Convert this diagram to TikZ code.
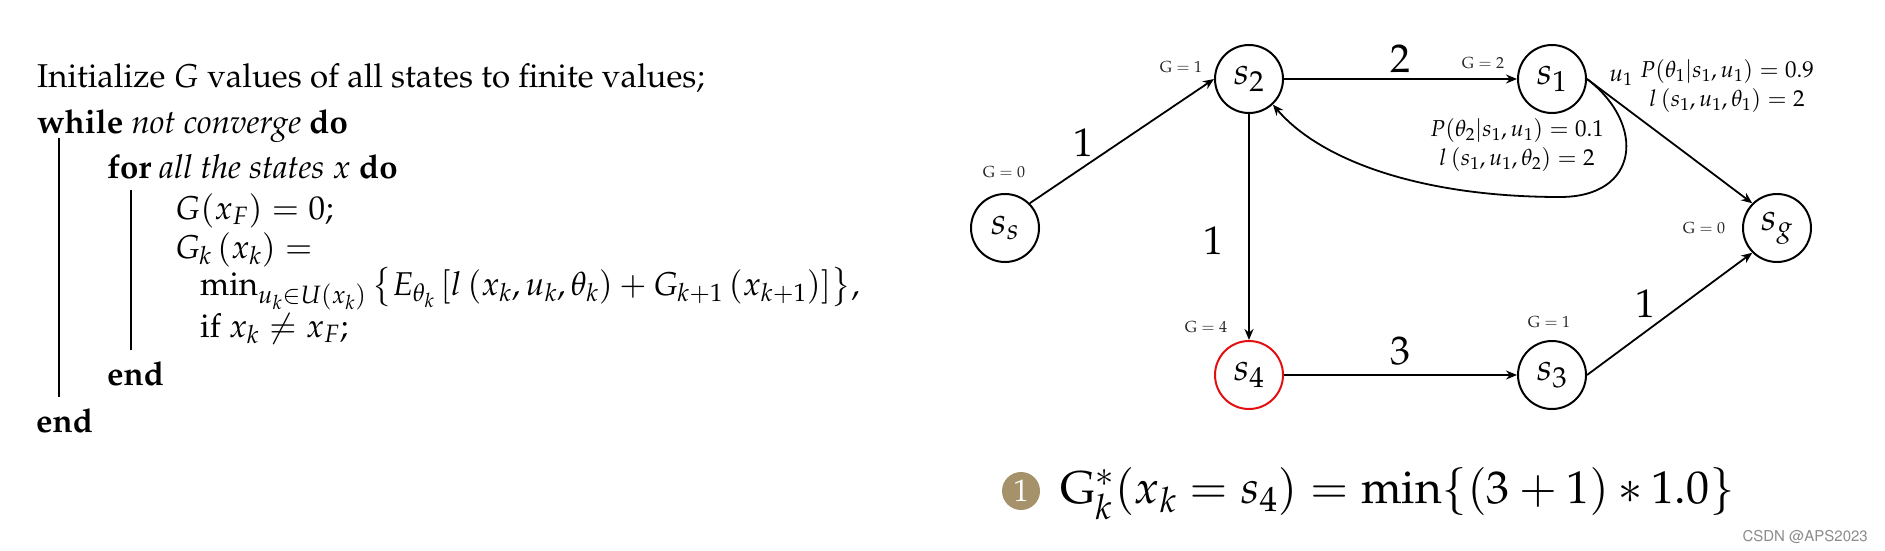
\documentclass[tikz,border=0pt]{standalone}
\usepackage[T1]{fontenc}
\usepackage{mathpazo}
\usetikzlibrary{arrows.meta}
\definecolor{bul}{RGB}{166,146,106}
\definecolor{redc}{RGB}{226,16,16}
\begin{document}
\begin{tikzpicture}[x=1pt,y=-1pt,
  state/.style={circle,draw,line width=2pt,minimum size=68pt,inner sep=0pt,font=\fontsize{38}{44}\selectfont},
  arr/.style={line width=1.8pt,-{Stealth[length=11pt,width=9pt]}},
  glab/.style={font=\fontsize{16}{18}\selectfont,text=black!85,inner sep=0pt},
  elab/.style={font=\fontsize{40}{44}\selectfont,inner sep=0pt},
  plab/.style={font=\fontsize{23}{29}\selectfont,align=center,inner sep=0pt},
  alg/.style={font=\fontsize{33}{40}\selectfont,anchor=base west,inner sep=0pt},
  bar/.style={line width=1.6pt}
]
\useasboundingbox (0,0) rectangle (1885,551);

% algorithm
\node[alg] (a1) at (37,88) {Initialize $G$ values of all states to finite values;};
\node[alg] (a2) at (37,133) {\textbf{while} \textit{not converge} \textbf{do}};
\node[alg] (a3) at (107,178) {\textbf{for} \textit{all the states $x$} \textbf{do}};
\node[alg] (a4) at (175,219) {$G(x_F)=0$;};
\node[alg] (a5) at (175,258) {$G_k\left(x_k\right)=$};
\node[alg] (a6) at (200,295) {$\min_{u_k\in U(x_k)}\left\{E_{\theta_k}\left[l\left(x_k,u_k,\theta_k\right)+G_{k+1}\left(x_{k+1}\right)\right]\right\}$,};
\node[alg] (a7) at (200,337) {if $x_k\neq x_F$;};
\node[alg] (a8) at (107,385) {\textbf{end}};
\node[alg] (a9) at (36,432) {\textbf{end}};
\draw[bar] (59,138) -- (59,397);
\draw[bar] (131,190) -- (131,350);

% graph
\node[state] (ss) at (1005,228) {$s_s$};
\node[state] (s2) at (1249,79) {$s_2$};
\node[state] (s1) at (1552,79) {$s_1$};
\node[state] (sg) at (1777,228) {$s_g$};
\node[state,draw=redc] (s4) at (1249,375) {$s_4$};
\node[state] (s3) at (1552,375) {$s_3$};

\draw[arr] (ss.45) -- (s2.west);
\draw[arr] (s2.east) -- (s1.west);
\draw[arr] (s2.south) -- (s4.north);
\draw[arr] (s4.east) -- (s3.west);
\draw[arr] (s3.east) -- (sg.-135);
\draw[arr] (s1.east) -- (sg.135);
\draw[arr] (s1.east) .. controls (1646,124) and (1640,197) .. (1560,197)
  .. controls (1420,197) and (1320,160) .. (s2.-47);

\node[elab] (w1) at (1083,143) {1};
\node[elab] (w2) at (1400,59) {2};
\node[elab] (w3) at (1213,241) {1};
\node[elab] (w4) at (1400,351) {3};
\node[elab] (w5) at (1645,304) {1};

\node[glab] (gs) at (1004,172) {$\mathrm{G}=0$};
\node[glab] (g2) at (1181,67) {$\mathrm{G}=1$};
\node[glab] (g1) at (1483,63) {$\mathrm{G}=2$};
\node[glab] (gg) at (1704,228) {$\mathrm{G}=0$};
\node[glab] (g4) at (1206,327) {$\mathrm{G}=4$};
\node[glab] (g3) at (1549,322) {$\mathrm{G}=1$};

\node[font=\fontsize{24}{28}\selectfont,inner sep=0pt] (u1) at (1621,78) {$u_1$};
\node[plab] (p1) at (1727,86) {$P(\theta_1|s_1,u_1)=0.9$\\$l\left(s_1,u_1,\theta_1\right)=2$};
\node[plab] (p2) at (1517,145) {$P(\theta_2|s_1,u_1)=0.1$\\$l\left(s_1,u_1,\theta_2\right)=2$};

% formula
\node[circle,fill=bul,minimum size=38pt,inner sep=0pt,text=white,font=\fontsize{31}{33}\selectfont] (b1) at (1021,491) {1};
\node[font=\fontsize{46}{52}\selectfont,anchor=base west,inner sep=0pt] (f) at (1060,503) {$\mathrm{G}_k^*(x_k=s_4)=\min\{(3+1)*1.0\}$};

\node[font=\fontfamily{phv}\fontsize{15}{16}\selectfont,text=black!45,anchor=base east,inner sep=0pt] (wm) at (1868,541) {CSDN @APS2023};
\end{tikzpicture}
\end{document}
